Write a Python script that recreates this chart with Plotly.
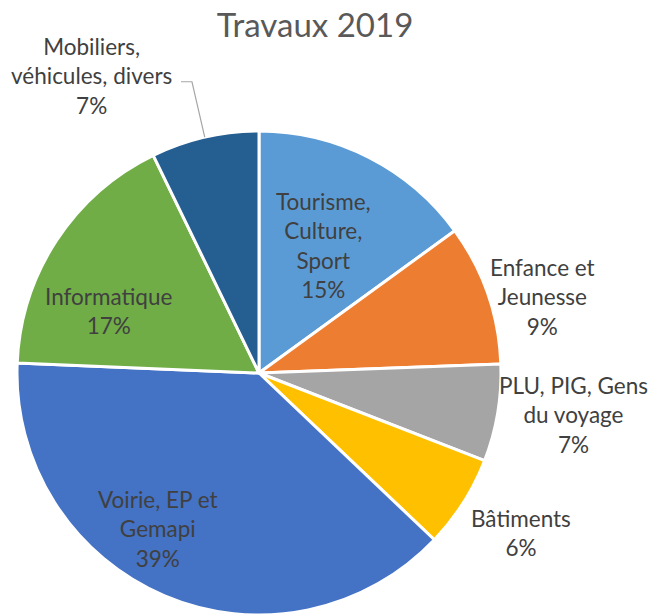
import math
import plotly.graph_objects as go

# ---- data ----
title_text = "Travaux 2019"
categories = ["Tourisme, Culture, Sport", "Enfance et Jeunesse", "PLU, PIG, Gens du voyage",
              "Bâtiments", "Voirie, EP et Gemapi", "Informatique", "Mobiliers, véhicules, divers"]
label_lines = ["Tourisme,<br>Culture,<br>Sport", "Enfance et<br>Jeunesse", "PLU, PIG, Gens<br>du voyage",
               "Bâtiments", "Voirie, EP et<br>Gemapi", "Informatique", "Mobiliers,<br>véhicules, divers"]
values = [15.0, 9.4, 6.5, 6.2, 38.55, 17.15, 7.2]
colors = ["#5B9BD5", "#ED7D31", "#A5A5A5", "#FFC000", "#4472C4", "#70AD47", "#255E91"]

# ---- layout / style ----
W, H = 648, 616
dom_x = [17 / W, 501 / W]
dom_y = [1 / H, 485 / H]
# label placement: (radius factor, angle nudge in degrees)
label_place = [(0.59, 0), (1.215, 4), (1.31, -2), (1.27, -1), (0.77, 10), (0.67, -10.6), (1.41, -16.5)]
FONT = "Lato, Carlito, Calibri, sans-serif"
TXT = "#404040"
LABEL_SIZE = 22.5

fig = go.Figure(go.Pie(
    labels=categories, values=values, sort=False, direction="clockwise", rotation=0,
    marker=dict(colors=colors, line=dict(color="white", width=3)),
    textinfo="none", hoverinfo="label+percent", showlegend=False,
    domain=dict(x=dom_x, y=dom_y),
))

cx = (dom_x[0] + dom_x[1]) / 2
cy = (dom_y[0] + dom_y[1]) / 2
R = min((dom_x[1] - dom_x[0]) * W, (dom_y[1] - dom_y[0]) * H) / 2
total = sum(values)

def polar(angle_deg, r_px):
    a = math.radians(angle_deg)
    return cx + r_px * math.sin(a) / W, cy + r_px * math.cos(a) / H

annotations = []
cum = 0.0
mids = []
for i, v in enumerate(values):
    mid = (cum + v / 2) / total * 360
    mids.append(mid)
    cum += v
    rf, nudge = label_place[i]
    x, y = polar(mid + nudge, rf * R)
    pct = int(v / total * 100 + 0.5)
    annotations.append(dict(
        x=x, y=y, xref="paper", yref="paper", xanchor="center", yanchor="middle",
        text=f"{label_lines[i]}<br>{pct}%", showarrow=False, align="center",
        font=dict(family=FONT, size=LABEL_SIZE, color=TXT),
    ))

# leader line for the last (Mobiliers) label
m = mids[-1]
p0 = polar(m, R)
p1 = polar(m, 1.235 * R)
p2 = (p1[0] - 11 / W, p1[1])
shapes = [dict(type="path", xref="paper", yref="paper",
               path=f"M {p0[0]} {p0[1]} L {p1[0]} {p1[1]} L {p2[0]} {p2[1]}",
               line=dict(color="#A6A6A6", width=1.2))]

fig.update_layout(
    width=W, height=H, margin=dict(l=0, r=0, t=0, b=0),
    paper_bgcolor="white", plot_bgcolor="white",
    title=dict(text=title_text, x=315 / W, xanchor="center", y=1 - 25 / H, yanchor="middle",
               font=dict(family=FONT, size=33, color="#595959")),
    annotations=annotations, shapes=shapes,
)

fig.write_html("out.html", config={"displayModeBar": False},
               post_script="document.body.style.margin='0px';document.body.style.overflow='hidden';")
